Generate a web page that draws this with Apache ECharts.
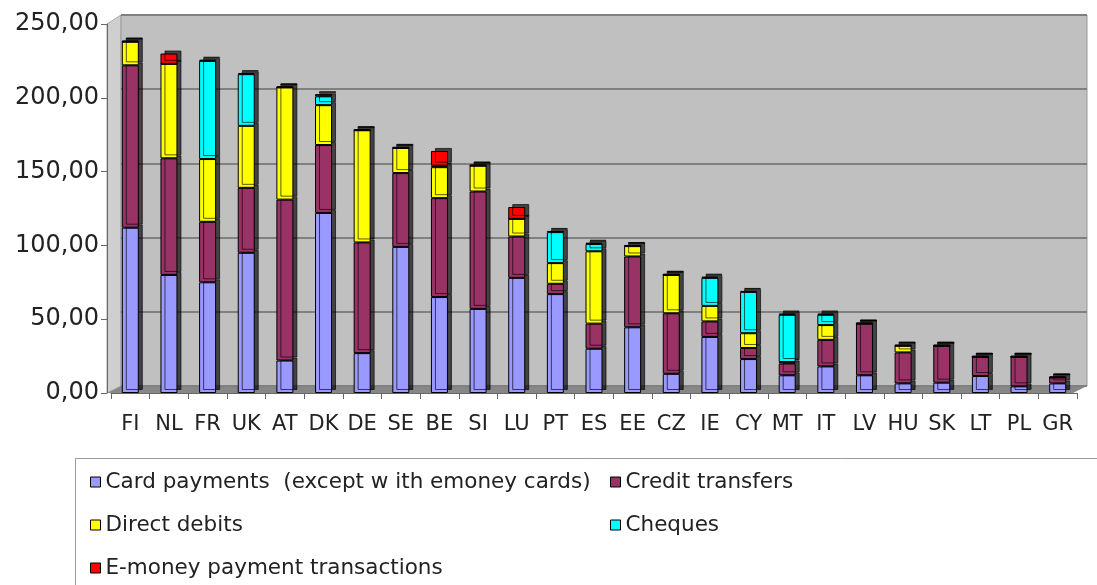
<!DOCTYPE html>
<html>
<head>
<meta charset="utf-8">
<script src="https://cdn.jsdelivr.net/npm/echarts@6/dist/echarts.min.js"></script>
<style>
  html, body { margin: 0; padding: 0; background: #fff; }
  #chart { width: 1097px; height: 585px; }
</style>
</head>
<body>
<div id="chart"></div>
<script>
const countries = ['FI', 'NL', 'FR', 'UK', 'AT', 'DK', 'DE', 'SE', 'BE', 'SI', 'LU', 'PT', 'ES', 'EE', 'CZ', 'IE', 'CY', 'MT', 'IT', 'LV', 'HU', 'SK', 'LT', 'PL', 'GR']

// values
const cardPayments = [112, 80, 75, 95, 22, 122, 27, 99, 65, 57, 78, 67, 30, 44.5, 13, 38, 23, 12, 18, 12, 6.5, 7, 11.5, 4.5, 6.5]
const creditTransfers = [110, 79, 41, 44, 109, 46, 75, 50, 67, 79.5, 28, 7, 17, 48, 41, 10.5, 7.5, 8, 18, 35, 21, 25, 13, 20, 4]
const directDebits = [16, 64, 42.5, 42, 76, 27, 76, 17, 21, 17.5, 12, 14, 49, 7, 26, 10.5, 10, 1, 10, 0, 4.5, 0, 0, 0, 0]
const cheques = [0, 0, 66.5, 35, 0, 6, 0, 0, 1, 0, 0, 21, 5, 0, 0, 19, 28, 32, 7, 0, 0, 0, 0, 0, 0]
const eMoney = [0.8, 7, 0.8, 0.6, 0.8, 1.5, 0.8, 0.8, 10, 0.8, 8, 0.8, 0.8, 0.8, 0.8, 0.8, 0.6, 0.8, 0.8, 0.8, 0.8, 0.8, 0.8, 0.8, 0.8]

const seriesNames = ['Card payments  (except w ith emoney cards)', 'Credit transfers', 'Direct debits', 'Cheques', 'E-money payment transactions']
const seriesData = [cardPayments, creditTransfers, directDebits, cheques, eMoney]
const colors = ['#9999ff', '#993366', '#ffff00', '#00ffff', '#ff0000']

const chart = echarts.init(document.getElementById('chart'))
const font = 'DejaVu Sans, Verdana, sans-serif'

chart.setOption({
  animation: false,
  textStyle: { fontFamily: font, color: '#222' },
  grid: [
    // front plane: bars and axes
    { left: 111, right: 20, top: 24, bottom: 192 },
    // back wall with the gridlines
    { left: 121, right: 10, top: 15, bottom: 199, show: true, backgroundColor: '#c0c0c0', borderColor: '#999', borderWidth: 1 }
  ],
  graphic: [
    // left wall
    { type: 'polygon', shape: { points: [[107, 24], [121, 15], [121, 386], [107, 393]] }, style: { fill: '#cfcfcf', stroke: '#aaa', lineWidth: 1 }, z: -1 },
    // floor
    { type: 'polygon', shape: { points: [[107, 393], [121, 386], [1087, 386], [1073, 393]] }, style: { fill: '#878787' }, z: 0 },
    // legend frame
    { type: 'rect', shape: { x: 75.5, y: 458.5, width: 1040, height: 140 }, style: { fill: 'none', stroke: '#9a9a9a', lineWidth: 1 } }
  ],
  legend: [
    {
      orient: 'vertical', left: 85, top: 466, itemGap: 21, itemWidth: 10, itemHeight: 10, icon: 'rect',
      data: [seriesNames[0], seriesNames[2], seriesNames[4]],
      itemStyle: { borderColor: '#000', borderWidth: 1 },
      textStyle: { fontSize: 21.5, color: '#222', fontFamily: font }
    },
    {
      orient: 'vertical', left: 605, top: 466, itemGap: 21, itemWidth: 10, itemHeight: 10, icon: 'rect',
      data: [seriesNames[1], seriesNames[3]],
      itemStyle: { borderColor: '#000', borderWidth: 1 },
      textStyle: { fontSize: 21.5, color: '#222', fontFamily: font }
    }
  ],
  xAxis: [
    {
      type: 'category',
      gridIndex: 0,
      data: countries,
      axisLine: { lineStyle: { color: '#666' } },
      axisTick: { show: true, length: 6, lineStyle: { color: '#666' } },
      axisLabel: { fontSize: 21, color: '#222', margin: 21, interval: 0 }
    },
    { type: 'category', gridIndex: 1, data: countries, show: false }
  ],
  yAxis: [
    {
      type: 'value',
      gridIndex: 0,
      min: 0, max: 250, interval: 50,
      offset: 4,
      axisLine: { show: true, lineStyle: { color: '#666' } },
      axisTick: { show: true, length: 6, lineStyle: { color: '#666' } },
      splitLine: { show: false },
      axisLabel: { fontSize: 24, color: '#222', margin: 8, formatter: v => v.toFixed(2).replace('.', ',') }
    },
    {
      type: 'value',
      gridIndex: 1,
      min: 0, max: 250, interval: 50,
      axisLine: { show: false },
      axisTick: { show: false },
      axisLabel: { show: false },
      splitLine: { lineStyle: { color: '#808080', width: 2 } }
    }
  ],
  series: seriesData.map((d, i) => ({
    name: seriesNames[i],
    type: 'bar',
    stack: 'total',
    xAxisIndex: 0,
    yAxisIndex: 0,
    data: d,
    barWidth: 17,
    itemStyle: {
      color: colors[i],
      borderColor: '#000',
      borderWidth: 1,
      shadowColor: 'rgba(0,0,0,0.65)',
      shadowBlur: 0,
      shadowOffsetX: 4,
      shadowOffsetY: -3
    }
  }))
})
</script>
</body>
</html>
